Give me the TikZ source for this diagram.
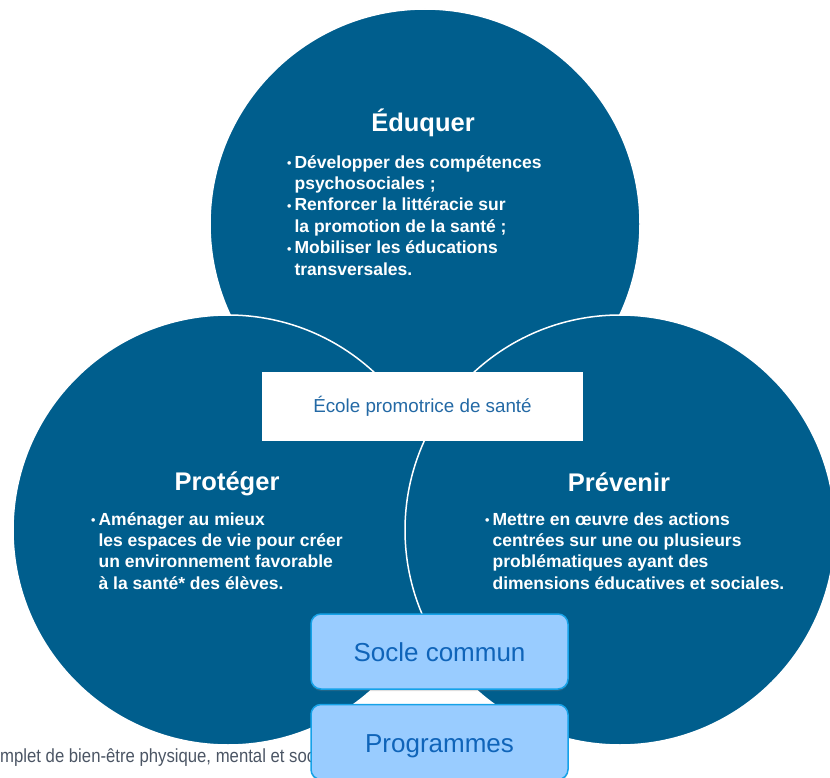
\documentclass[tikz,border=0pt]{standalone}
\usepackage{fontspec}
\setmainfont{Liberation Sans}
\newfontfamily\notefont[FakeStretch=0.88]{Liberation Sans}
\usetikzlibrary{positioning,shadows}

\definecolor{bleufonce}{RGB}{0,94,141}
\definecolor{cadrefond}{RGB}{153,204,255}
\definecolor{cadrebord}{RGB}{22,162,232}
\definecolor{cadretexte}{RGB}{15,100,185}
\definecolor{ecoletexte}{RGB}{35,105,165}
\definecolor{notetexte}{RGB}{75,85,100}

\newcommand{\puce}{\raisebox{0.3pt}{\fontsize{12.5}{12.5}\selectfont\textbullet}}

\begin{document}
\begin{tikzpicture}[
			x=1pt, y=-1pt,
			cercle/.style = {circle, draw=white, line width=1.5pt, fill=bleufonce, minimum size=430pt, inner sep=0pt},
			titre/.style = {anchor=base, text=white, inner sep=0pt, font=\fontsize{25.5}{30}\selectfont\bfseries},
			liste/.style = {anchor=north west, text=white, inner sep=0pt, font=\fontsize{17.5}{21.4}\selectfont\bfseries},
			ecole/.style = {fill=white, minimum width=321pt, minimum height=69pt, inner sep=0pt, text height=16pt, text depth=3pt, text=ecoletexte, font=\fontsize{18.8}{22}\selectfont},
			cadre/.style = {draw=cadrebord, line width=1.5pt, fill=cadrefond, rounded corners=10pt, minimum width=257pt, minimum height=75pt, inner sep=0pt, text height=26pt, text depth=5.5pt, text=cadretexte, font=\fontsize{26}{30}\selectfont, drop shadow={shadow xshift=0pt, shadow yshift=-2pt, opacity=0.25}}
		]
		\useasboundingbox (0,0) rectangle (830,778);
		\node[cercle] (edu) at (425,224) {};
		\node[cercle] (pro) at (228,530) {};
		\node[cercle] (pre) at (620,530) {};
		\node[titre] (t-edu) at (423,132) {Éduquer};
		\node[liste] (l-edu) at (287,153) {\begin{tabular}{@{}l@{\hspace{3pt}}l@{}}
			\puce & Développer des compétences\\
			& psychosociales ;\\
			\puce & Renforcer la littéracie sur\\
			& la promotion de la santé ;\\
			\puce & Mobiliser les éducations\\
			& transversales.
		\end{tabular}};
		\node[titre] (t-pro) at (227,490) {Protéger};
		\node[liste] (l-pro) at (91,510) {\begin{tabular}{@{}l@{\hspace{3pt}}l@{}}
			\puce & Aménager au mieux\\
			& les espaces de vie pour créer\\
			& un environnement favorable\\
			& à la santé* des élèves.
		\end{tabular}};
		\node[titre] (t-pre) at (619,491) {Prévenir};
		\node[liste] (l-pre) at (485,510) {\begin{tabular}{@{}l@{\hspace{3pt}}l@{}}
			\puce & Mettre en œuvre des actions\\
			& centrées sur une ou plusieurs\\
			& problématiques ayant des\\
			& dimensions éducatives et sociales.
		\end{tabular}};
		\node[ecole] (eps) at (422.5,406) {École promotrice de santé};
		\node[anchor=base west, inner sep=0pt, text=notetexte, font=\notefont\fontsize{19}{22}\selectfont] (note) at (0,762) {mplet de bien-être physique, mental et soci};
		\node[cadre] (socle) at (439.5,651.5) {Socle commun};
		\node[cadre] (prog) [below=14pt of socle] {Programmes};
	\end{tikzpicture}
\end{document}
